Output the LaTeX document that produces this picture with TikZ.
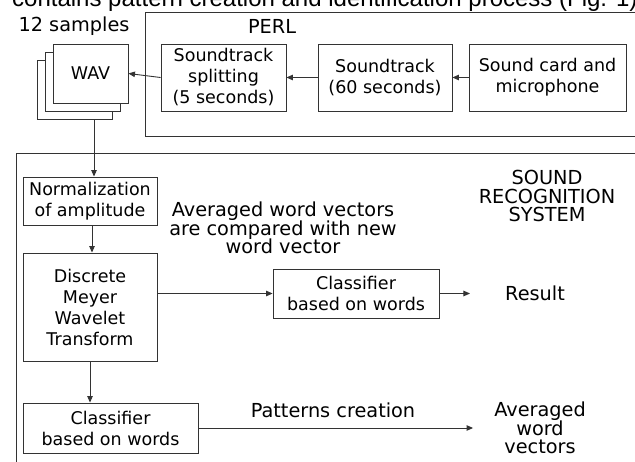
\documentclass[tikz,border=0pt]{standalone}
\usepackage{fontspec}
\setmainfont{DejaVu Sans}
\newfontfamily\capfont{Liberation Sans}
\usetikzlibrary{arrows.meta}
\begin{document}
\begin{tikzpicture}[x=1bp,y=-1bp,
  line/.style={draw=black!80, line width=0.9bp},
  box/.style={line, fill=white, align=center, inner sep=0pt,
    font=\fontsize{17.5bp}{21bp}\selectfont},
  lbl/.style={align=center, inner sep=0pt,
    font=\fontsize{19.3bp}{18.7bp}\selectfont},
  arr/.style={line, -{Triangle[length=6.5bp,width=5.5bp]}}]
\clip (0,0) rectangle (635,462);
\fill[white] (0,0) rectangle (635,462);

% caption line running along the top edge
\node[anchor=base west, inner sep=0pt, font=\capfont\fontsize{24bp}{24bp}\selectfont]
  (caption) at (12,7) {contains pattern creation and identification process (Fig. 1)};

% group frames
\draw[line] (640,12) -- (145,12) -- (145,136) -- (640,136);
\draw[line] (640,153) -- (16,153) -- (16,470);

% labels
\node[lbl] (samples) at (74,26) {12 samples};
\node[lbl] (perl) at (272,26) {PERL};
\node[lbl] (srs) at (547,196) {SOUND\\RECOGNITION\\SYSTEM};
\node[lbl] (compare) at (283,228) {Averaged word vectors\\are compared with new\\word vector};
\node[lbl] (result) at (535,293) {Result};
\node[lbl] (avg) at (540,428) {Averaged\\word\\vectors};
\node[lbl] (patterns) at (333,410) {Patterns creation};

% stack of WAV samples
\node[box, minimum width=75bp, minimum height=59bp] (back) at (74.5,89.5) {};
\node[box, minimum width=75bp, minimum height=59bp] (mid) at (82.5,81.5) {};
\node[box, minimum width=75bp, minimum height=59bp] (wav) at (90.5,73.5) {WAV};

% recording chain
\node[box, minimum width=125bp, minimum height=67bp] (split) at (223.5,77.5)
  {Soundtrack\\splitting\\(5 seconds)};
\node[box, minimum width=134bp, minimum height=67bp] (s60) at (385,77.5)
  {Soundtrack\\(60 seconds)};
\node[box, minimum width=157bp, minimum height=67bp] (card) at (547.5,77.5)
  {Sound card and\\microphone};

% recognition chain
\node[box, minimum width=134bp, minimum height=48bp] (norm) at (90,201)
  {Normalization\\of amplitude};
\node[box, minimum width=134bp, minimum height=108bp] (dmwt) at (90,307)
  {Discrete\\Meyer\\Wavelet\\Transform};
\node[box, minimum width=175bp, minimum height=50bp] (cls1) at (110.5,428)
  {Classifier\\based on words};
\node[box, minimum width=166bp, minimum height=49bp] (cls2) at (356,293.5)
  {Classifier\\based on words};

% connectors
\coordinate (wavx) at (94,0);
\coordinate (normx) at (92,0);
\draw[arr] (card.west) -- (s60.east);
\draw[arr] (s60.west) -- (split.east);
\draw[arr] (split.west) -- (wav.east);
\draw[arr] (back.south -| wavx) -- (norm.north -| wavx);
\draw[arr] (norm.south -| normx) -- (dmwt.north -| normx);
\draw[arr] (dmwt.south) -- (cls1.north -| dmwt.south);
\draw[arr] (dmwt.east |- cls2.west) -- (cls2.west);
\draw[arr, shorten >=35bp] (cls2.east) -- (cls2.east -| result.west);
\draw[arr, shorten >=21bp] (cls1.east) -- (cls1.east -| avg.west);
\end{tikzpicture}
\end{document}
